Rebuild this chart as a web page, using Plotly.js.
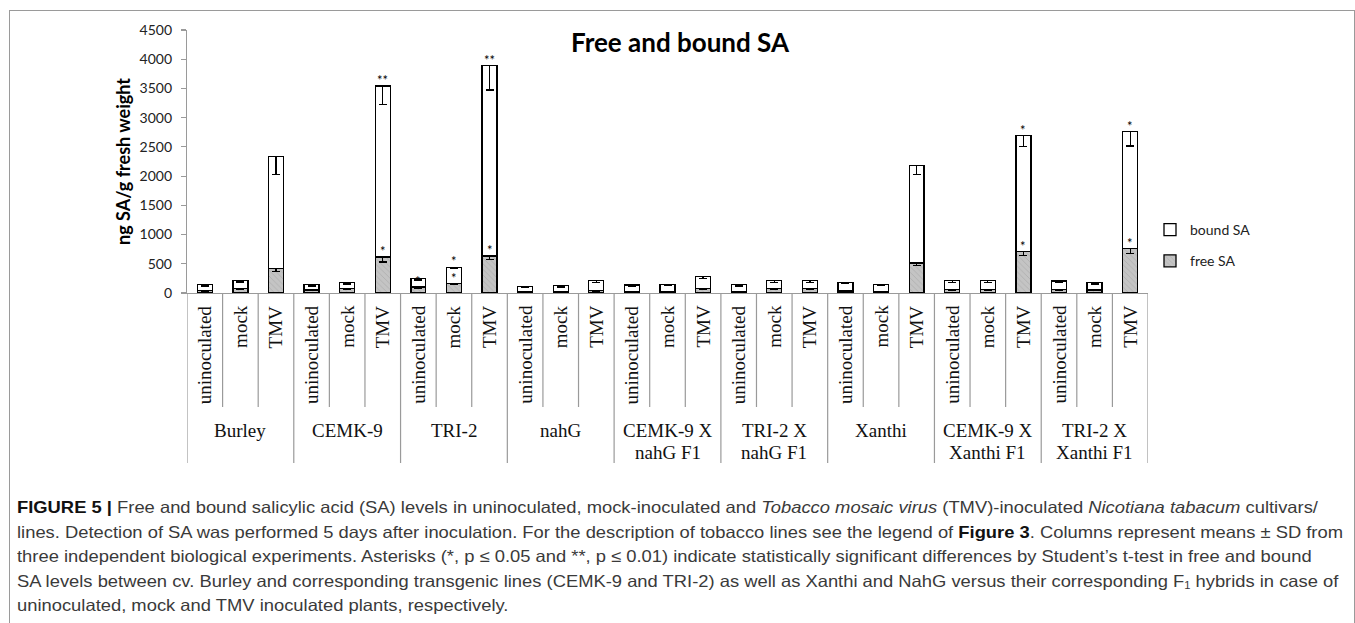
<!DOCTYPE html>
<html>
<head>
<meta charset="utf-8">
<script src="https://cdn.plot.ly/plotly-3.0.1.min.js"></script>
<style>
  html, body { margin:0; padding:0; background:#fff; }
  #wrap { position:relative; width:1355px; height:623px; overflow:hidden; }
  #chart { position:absolute; left:0; top:0; width:1355px; height:623px; }
  #frame { position:absolute; left:9px; top:10px; width:1344px; height:700px;
           border:1px solid #9a9a9a; border-bottom:none; pointer-events:none; }
  #caption { position:absolute; left:17px; top:495px; font-family:"Liberation Sans Narrow","Liberation Sans",Arial,sans-serif;
             font-size:16.5px; color:#3a3a3a; line-height:24.6px; white-space:nowrap; }
  #caption .ln { display:block; transform-origin:0 50%; }
  #caption b { color:#111; }
  #caption sub { font-size:10px; vertical-align:-2px; line-height:0; }
</style>
</head>
<body>
<div id="wrap">
  <div id="chart"></div>
  <div id="frame"></div>
  <div id="caption">
    <span class="ln"><b>FIGURE 5 |</b> Free and bound salicylic acid (SA) levels in uninoculated, mock-inoculated and <i>Tobacco mosaic virus</i> (TMV)-inoculated <i>Nicotiana tabacum</i> cultivars/</span>
    <span class="ln">lines. Detection of SA was performed 5 days after inoculation. For the description of tobacco lines see the legend of <b>Figure 3</b>. Columns represent means ± SD from</span>
    <span class="ln">three independent biological experiments. Asterisks (*, p ≤ 0.05 and **, p ≤ 0.01) indicate statistically significant differences by Student’s t-test in free and bound</span>
    <span class="ln">SA levels between cv. Burley and corresponding transgenic lines (CEMK-9 and TRI-2) as well as Xanthi and NahG versus their corresponding F<sub>1</sub> hybrids in case of</span>
    <span class="ln">uninoculated, mock and TMV inoculated plants, respectively.</span>
  </div>
</div>
<script>
// ---- data ----
var groupLabels = ['Burley', 'CEMK-9', 'TRI-2', 'nahG', 'CEMK-9 X<br>nahG F1', 'TRI-2 X<br>nahG F1',
                   'Xanthi', 'CEMK-9 X<br>Xanthi F1', 'TRI-2 X<br>Xanthi F1'];
var treatments = ['uninoculated', 'mock', 'TMV'];

var freeSA  = [45, 80, 420,   50, 80, 615,   105, 160, 635,
               30, 30, 40,    30, 30, 80,    30, 75, 80,
               35, 30, 515,   55, 55, 710,   55, 50, 760];
var boundSA = [95, 135, 1915,  92, 100, 2925,  145, 280, 3255,
               80, 95, 175,    107, 115, 200,  110, 135, 130,
               150, 115, 1665, 155, 155, 1980, 150, 130, 2000];
var freeSD  = [10, 15, 55,   12, 15, 85,   20, 20, 65,
               8, 8, 10,     8, 8, 15,     8, 15, 15,
               10, 8, 45,    15, 15, 70,   15, 12, 80];
var boundSD = [20, 25, 310,  20, 25, 310,  25, 25, 415,
               15, 20, 35,   20, 20, 30,   20, 30, 30,
               25, 20, 150,  25, 25, 180,  25, 25, 245];

// significance marks (index of column, text)
var sigBoundIdx  = [5, 8, 7, 23, 26];
var sigBoundText = ['**', '**', '*', '*', '*'];
var sigFreeIdx   = [5, 8, 7, 6, 23, 26];
var sigFreeText  = ['*', '*', '*', '*', '*', '*'];

// ---- build ----
var n = freeSA.length;
var xs = [];
for (var i = 0; i < n; i++) xs.push(i);
var zeros = xs.map(function(){ return 0; });
var total = xs.map(function(i){ return freeSA[i] + boundSA[i]; });

var traceFree = {
  type: 'bar', name: 'free SA', x: xs, y: freeSA, legendgroup: 'f', legendrank: 2,
  marker: { color: '#c0c0c0', line: { color: '#000', width: 1.3 },
            pattern: { shape: '\\', bgcolor: '#c4c4c4', fgcolor: '#adadad', size: 4, solidity: 0.2 } },
  error_y: { type: 'data', symmetric: false, array: zeros, arrayminus: freeSD,
             color: '#000', thickness: 1.3, width: 4 },
  hoverinfo: 'y'
};
var traceBound = {
  type: 'bar', name: 'bound SA', x: xs, y: boundSA, legendgroup: 'b', legendrank: 1,
  marker: { color: '#ffffff', line: { color: '#000', width: 1.3 } },
  error_y: { type: 'data', symmetric: false, array: zeros, arrayminus: boundSD,
             color: '#000', thickness: 1.3, width: 4 },
  hoverinfo: 'y'
};

// geometry helpers (pixels -> paper)
var plotTop = 30, plotBottom = 293, plotH = plotBottom - plotTop;
function pyToPaper(py) { return (plotBottom - py) / plotH; }

var annotations = [];
var shapes = [];
var serif = 'Liberation Serif, Times New Roman, serif';

// treatment labels (rotated)
for (var i = 0; i < n; i++) {
  annotations.push({
    x: i, xref: 'x', y: pyToPaper(303), yref: 'paper', yanchor: 'top', xanchor: 'center',
    text: treatments[i % 3], textangle: -90, showarrow: false,
    font: { family: serif, size: 19, color: '#111' }
  });
}
// group labels
for (var g = 0; g < groupLabels.length; g++) {
  var lines = groupLabels[g].split('<br>');
  for (var k = 0; k < lines.length; k++) {
    annotations.push({
      x: g * 3 + 1, xref: 'x', y: pyToPaper(430 + k * 22), yref: 'paper', yanchor: 'middle',
      xanchor: 'center', text: lines[k], showarrow: false,
      font: { family: serif, size: 19, color: '#111' }
    });
  }
}
// dividers
for (var b = 0; b <= n; b++) {
  shapes.push({
    type: 'line', xref: 'x', yref: 'paper', x0: b - 0.5, x1: b - 0.5,
    y0: 0, y1: pyToPaper(b % 3 === 0 ? 463 : 407),
    line: { color: '#9a9a9a', width: 1.2 }
  });
}
// asterisks
for (var s = 0; s < sigBoundIdx.length; s++) {
  var j = sigBoundIdx[s];
  annotations.push({ x: j, xref: 'x', y: total[j], yref: 'y', yanchor: 'middle', yshift: 6,
    text: sigBoundText[s], showarrow: false, font: { family: 'Lato, sans-serif', size: 13, color: '#000' } });
}
for (var s = 0; s < sigFreeIdx.length; s++) {
  var j = sigFreeIdx[s];
  annotations.push({ x: j, xref: 'x', y: freeSA[j], yref: 'y', yanchor: 'middle', yshift: 6,
    text: sigFreeText[s], showarrow: false, font: { family: 'Lato, sans-serif', size: 13, color: '#000' } });
}

var layout = {
  width: 1355, height: 623,
  margin: { l: 187, r: 207, t: plotTop, b: 623 - plotBottom, pad: 0 },
  paper_bgcolor: 'rgba(0,0,0,0)', plot_bgcolor: 'rgba(0,0,0,0)',
  barmode: 'stack', bargap: 0.58,
  showlegend: true,
  title: { text: '<b>Free and bound SA</b>', x: 680 / 1355, xref: 'container', xanchor: 'center',
           y: 1 - 43 / 623, yref: 'container', yanchor: 'middle',
           font: { family: 'Lato, sans-serif', size: 26, color: '#000' } },
  xaxis: { type: 'linear', range: [-0.5, n - 0.5], showticklabels: false, ticks: '',
           showgrid: false, zeroline: false, showline: true, linecolor: '#9a9a9a', linewidth: 1.2,
           fixedrange: true },
  yaxis: { range: [0, 4500], dtick: 500, tick0: 0, ticks: 'outside', ticklen: 5, tickcolor: '#9a9a9a',
           tickwidth: 1.2, showline: true, linecolor: '#9a9a9a', linewidth: 1.2, showgrid: false,
           zeroline: false, ticklabelstandoff: 6,
           tickfont: { family: 'Lato, sans-serif', size: 14, color: '#222' },
           title: { text: '<b>ng SA/g fresh weight</b>', standoff: 4,
                    font: { family: 'Lato, sans-serif', size: 18, color: '#000' } },
           fixedrange: true },
  legend: { x: (1150 - 187) / 961, xanchor: 'left', y: pyToPaper(214), yanchor: 'top',
            traceorder: 'grouped', tracegroupgap: 10, bgcolor: 'rgba(0,0,0,0)',
            font: { family: 'Lato, sans-serif', size: 14, color: '#222' } },
  annotations: annotations,
  shapes: shapes
};

Plotly.newPlot('chart', [traceFree, traceBound], layout, { displayModeBar: false, staticPlot: true });

// fit caption lines to the reference column width (condensed face)
(function(){
  var lns = document.querySelectorAll('#caption .ln');
  var ref = lns[1];
  var w = ref.getBoundingClientRect().width;
  var sc = (1343 - 17) / w;
  for (var i = 0; i < lns.length; i++) lns[i].style.transform = 'scaleX(' + sc + ')';
})();
</script>
</body>
</html>
